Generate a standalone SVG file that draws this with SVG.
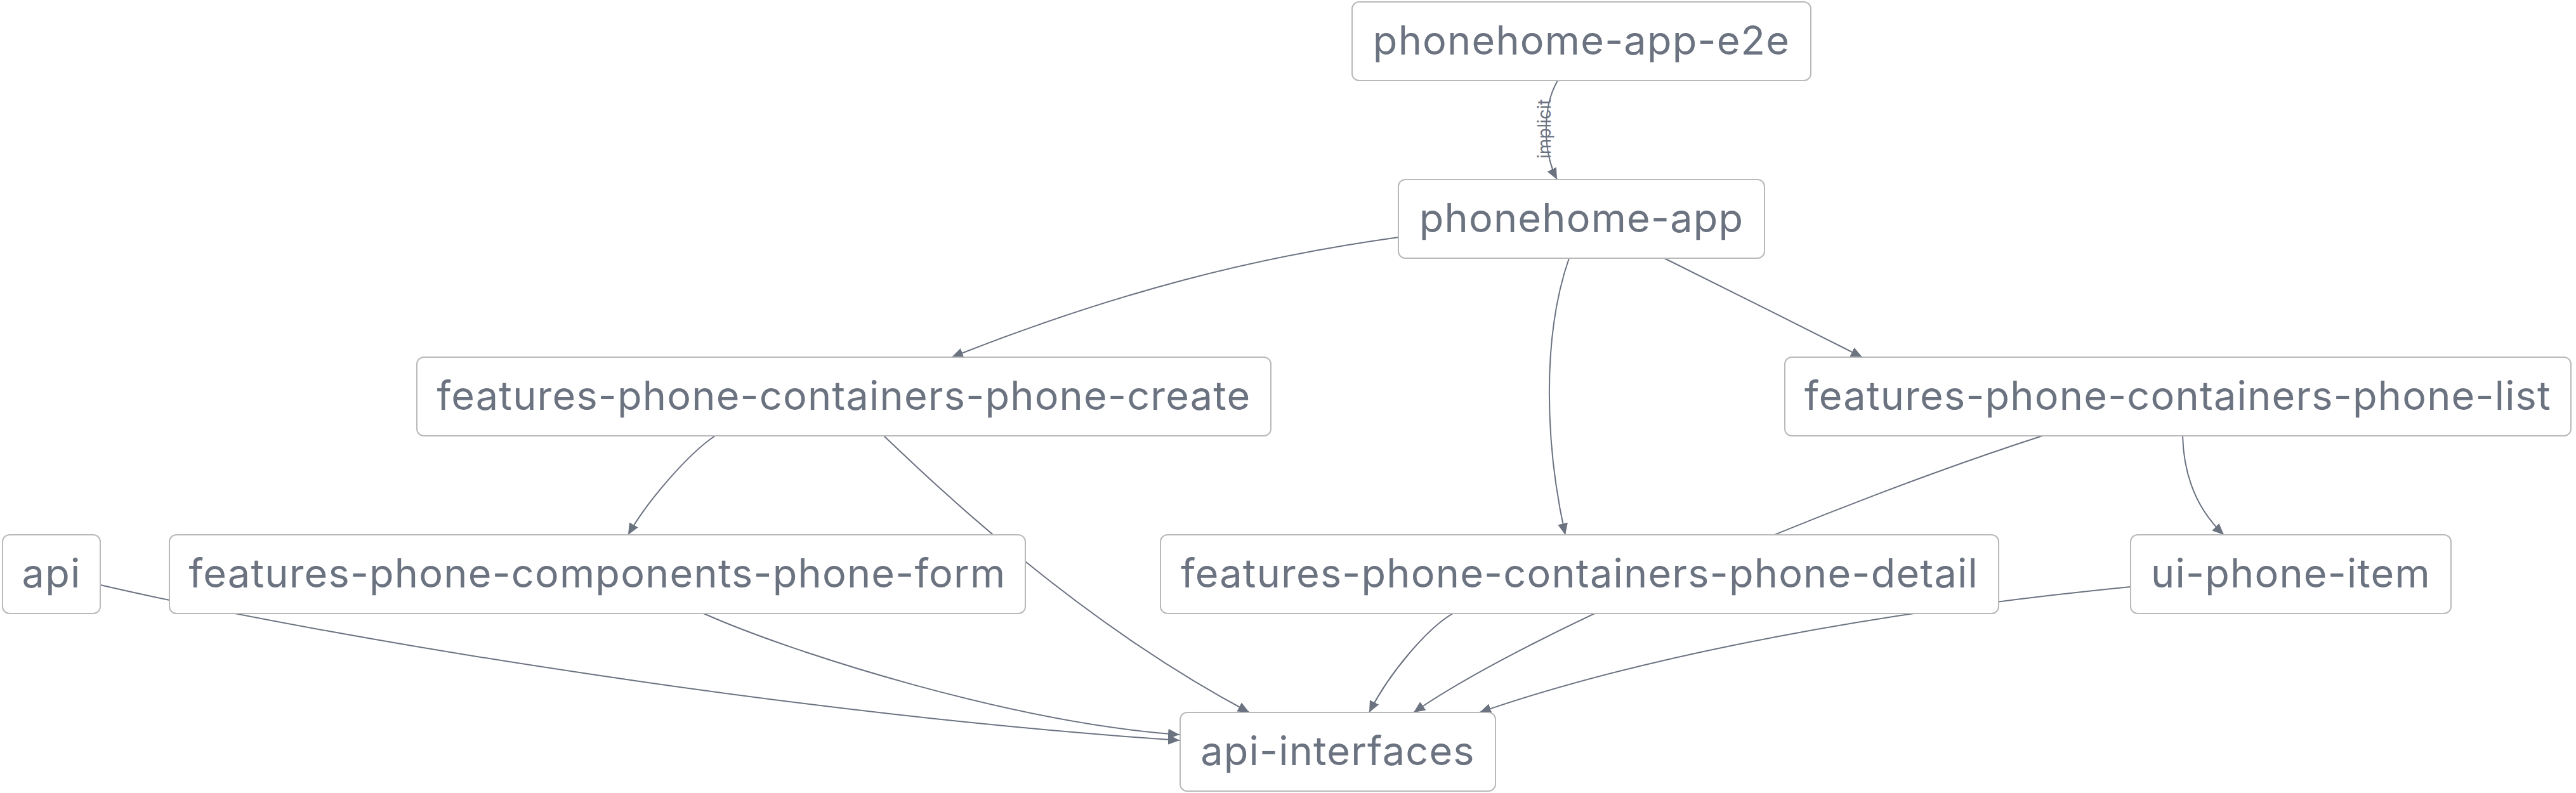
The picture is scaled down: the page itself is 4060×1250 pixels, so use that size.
<svg xmlns="http://www.w3.org/2000/svg" width="4060" height="1250" viewBox="0 0 4060 1250">
<style>
.node rect{fill:#ffffff;stroke:#b9b9b9;stroke-width:2}
.node text{font-family:Inter,"Liberation Sans",sans-serif;font-size:63px;letter-spacing:1.2px;fill:#6b7280;text-anchor:middle}
.edge{fill:none;stroke:#6b7280;stroke-width:2}
.elabel{font-family:Inter,"Liberation Sans",sans-serif;font-size:28px;fill:#6b7280;text-anchor:middle}
</style>
<defs>
<marker id="arr" markerUnits="userSpaceOnUse" markerWidth="20" markerHeight="18" refX="18" refY="8" orient="auto">
<path d="M0,0 L18,8 L0,16 z" fill="#6b7280"/>
</marker>
</defs>
<g id="connectors">
<path class="edge" marker-end="url(#arr)" d="M2455,127 C2430,170 2432,240 2454,283"/>
<text class="elabel" transform="translate(2444,203) rotate(-90)">implicit</text>
<path class="edge" marker-end="url(#arr)" d="M2204,374 C1980,405 1760,460 1500,563"/>
<path class="edge" marker-end="url(#arr)" d="M2473,407 C2430,530 2435,700 2467,843"/>
<path class="edge" marker-end="url(#arr)" d="M2623,407 C2720,455 2840,515 2935,563"/>
<path class="edge" marker-end="url(#arr)" d="M1127,687 C1085,715 1020,790 990,843"/>
<path class="edge" marker-end="url(#arr)" d="M1393,687 C1480,770 1700,980 1969,1123"/>
<path class="edge" marker-end="url(#arr)" d="M1109,967 C1250,1030 1600,1140 1859,1158"/>
<path class="edge" marker-end="url(#arr)" d="M158,922 C560,1015 1300,1130 1859,1167"/>
<path class="edge" marker-end="url(#arr)" d="M2290,967 C2250,990 2190,1060 2158,1123"/>
<path class="edge" marker-end="url(#arr)" d="M3219,687 C2900,790 2420,990 2228,1123"/>
<path class="edge" marker-end="url(#arr)" d="M3358,925 C2980,962 2600,1030 2332,1123"/>
<path class="edge" marker-end="url(#arr)" d="M3440,687 C3442,760 3470,810 3505,843"/>
</g>
<g id="node-phonehome-app-e2e" class="node"><rect x="2131" y="3" width="723" height="124" rx="11"/><text x="2492.5" y="86">phonehome-app-e2e</text></g>
<g id="node-phonehome-app" class="node"><rect x="2204" y="283" width="577" height="124" rx="11"/><text x="2492.5" y="366">phonehome-app</text></g>
<g id="node-features-phone-containers-phone-create" class="node"><rect x="657" y="563" width="1346" height="124" rx="11"/><text x="1330" y="646">features-phone-containers-phone-create</text></g>
<g id="node-features-phone-containers-phone-list" class="node"><rect x="2813" y="563" width="1239" height="124" rx="11"/><text x="3432.5" y="646">features-phone-containers-phone-list</text></g>
<g id="node-api" class="node"><rect x="4" y="843" width="154" height="124" rx="11"/><text x="81" y="926">api</text></g>
<g id="node-features-phone-components-phone-form" class="node"><rect x="267" y="843" width="1349" height="124" rx="11"/><text x="941.5" y="926">features-phone-components-phone-form</text></g>
<g id="node-features-phone-containers-phone-detail" class="node"><rect x="1829" y="843" width="1321" height="124" rx="11"/><text x="2489.5" y="926">features-phone-containers-phone-detail</text></g>
<g id="node-ui-phone-item" class="node"><rect x="3358" y="843" width="505" height="124" rx="11"/><text x="3610.5" y="926">ui-phone-item</text></g>
<g id="node-api-interfaces" class="node"><rect x="1860" y="1123" width="497" height="124" rx="11"/><text x="2108.5" y="1206">api-interfaces</text></g>
</svg>
